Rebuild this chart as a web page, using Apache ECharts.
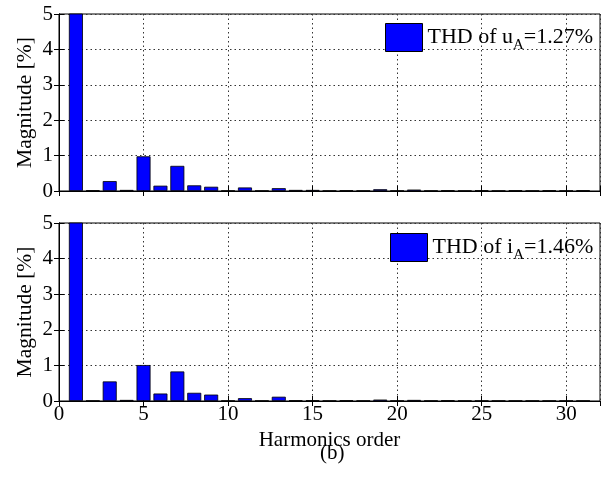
<!DOCTYPE html>
<html>
<head>
<meta charset="utf-8">
<script src="https://cdn.jsdelivr.net/npm/echarts@6/dist/echarts.min.js"></script>
<style>html,body{margin:0;padding:0;background:#fff}#c{width:609px;height:477px}</style>
</head>
<body>
<div id="c"></div>
<script>
const orders = [1,2,3,4,5,6,7,8,9,10,11,12,13,14,15,16,17,18,19,20,21,22,23,24,25,26,27,28,29,30,31];
const uA = [100,0.02,0.28,0.03,0.98,0.15,0.71,0.16,0.12,0.01,0.10,0.01,0.08,0.03,0.03,0.01,0.02,0.01,0.05,0.01,0.04,0.01,0.02,0.01,0.02,0.01,0.02,0.01,0.02,0.01,0.02];
const iA = [100,0.01,0.55,0.03,1.01,0.21,0.83,0.23,0.18,0.01,0.08,0.01,0.12,0.02,0.02,0.01,0.02,0.01,0.04,0.01,0.03,0.01,0.02,0.01,0.01,0.01,0.01,0.01,0.01,0.01,0.01];
const xTicks = [0,5,10,15,20,25,30];
const yTicks = [0,1,2,3,4,5];
const nameU = 'THD of u_A=1.27%';
const nameI = 'THD of i_A=1.46%';

const FONT = 'Liberation Serif';
const chart = echarts.init(document.getElementById('c'), null, {renderer:'canvas'});

function xAx(gi, labels, pos) {
  return {
    type:'value', gridIndex:gi, min:xTicks[0], max:32, interval:xTicks[1]-xTicks[0], position:pos || 'bottom',
    axisLine:{show:true, lineStyle:{color:'#000', width:1}},
    axisTick:{show:true, inside:true, length:5, lineStyle:{color:'#000'}},
    axisLabel:{show:labels, showMaxLabel:false, color:'#000', fontFamily:FONT, fontSize:21, margin:3},
    splitLine:{show: !pos, lineStyle:{color:'#333', type:[1.5,3], width:1}},
    name: (labels && !pos) ? 'Harmonics order' : '', nameLocation:'middle', nameGap:29,
    nameTextStyle:{color:'#000', fontFamily:FONT, fontSize:21}
  };
}
function yAx(gi, pos) {
  return {
    type:'value', gridIndex:gi, min:yTicks[0], max:yTicks[yTicks.length-1], interval:1, position:pos || 'left',
    axisLine:{show:true, lineStyle:{color:'#000', width:1}},
    axisTick:{show:true, inside:true, length:5, lineStyle:{color:'#000'}},
    axisLabel:{show: !pos, color:'#000', fontFamily:FONT, fontSize:21, margin:6},
    splitLine:{show: !pos, lineStyle:{color:'#333', type:[1.5,3], width:1}},
    name: pos ? '' : 'Magnitude [%]', nameLocation:'middle', nameGap:23, nameMoveOverlap:false,
    nameTextStyle:{color:'#000', fontFamily:FONT, fontSize:21.5}
  };
}
const rich = {
  a:{fontFamily:FONT, fontSize:22, color:'#000'},
  s:{fontFamily:FONT, fontSize:15, color:'#000', padding:[15,0,0,0]}
};
function fmt(n){ const p = n.split('_'); const sub = p[1].charAt(0); const rest = p[1].slice(1); return '{a|'+p[0]+'}{s|'+sub+'}{a|'+rest+'}'; }

const barStyle = {color:'#0000ff', borderColor:'#000', borderWidth:0.8};
chart.setOption({
  animation:false,
  backgroundColor:'#fff',
  grid:[
    {left:59, top:14, width:541, height:177, show:true, borderColor:'#000', borderWidth:1, backgroundColor:'transparent'},
    {left:59, top:223, width:541, height:178, show:true, borderColor:'#000', borderWidth:1, backgroundColor:'transparent'}
  ],
  xAxis:[xAx(0,false), xAx(1,true), xAx(0,false,'top'), xAx(1,false,'top')],
  yAxis:[yAx(0), yAx(1), yAx(0,'right'), yAx(1,'right')],
  legend:[
    {data:[nameU], left:380, top:18, itemWidth:37, itemHeight:28, icon:'rect', formatter:fmt, textStyle:{rich:rich}, itemStyle:{borderColor:'#000', borderWidth:1}},
    {data:[nameI], left:385, top:228, itemWidth:37, itemHeight:28, icon:'rect', formatter:fmt, textStyle:{rich:rich}, itemStyle:{borderColor:'#000', borderWidth:1}}
  ],
  graphic:[{type:'text', left:320, top:443, style:{text:'(b)', font:'21px "Liberation Serif"', fill:'#000'}}],
  series:[
    {name:nameU, type:'bar', xAxisIndex:0, yAxisIndex:0, clip:true, barWidth:14, itemStyle:barStyle, data:orders.map((o,i)=>[o,uA[i]])},
    {name:nameI, type:'bar', xAxisIndex:1, yAxisIndex:1, clip:true, barWidth:14, itemStyle:barStyle, data:orders.map((o,i)=>[o,iA[i]])}
  ]
});
</script>
</body>
</html>
